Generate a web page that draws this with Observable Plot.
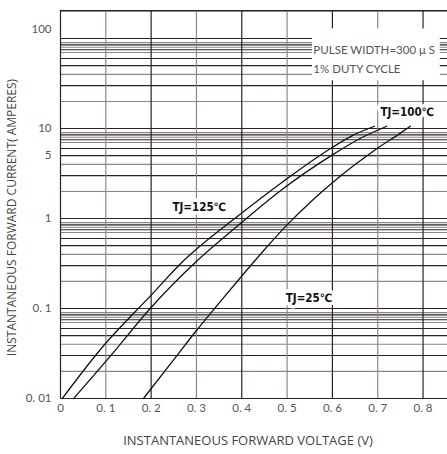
<!DOCTYPE html>
<html>
<head>
<meta charset="utf-8">
<script src="https://cdn.jsdelivr.net/npm/d3@7"></script>
<script src="https://cdn.jsdelivr.net/npm/@observablehq/plot@0.6"></script>
<style>
  html, body { margin: 0; padding: 0; background: #fff; }
  #chart svg { display: block; }
</style>
</head>
<body>
<div id="chart"></div>
<script>
// ---- data ----
const v125 = [0.004, 0.088, 0.199, 0.272, 0.395, 0.49, 0.596, 0.645, 0.693];
const i125 = [0.01, 0.035, 0.139, 0.341, 1.1, 2.55, 6.0, 8.4, 10.6];

const v100 = [0.029, 0.117, 0.194, 0.302, 0.397, 0.486, 0.600, 0.66, 0.72];
const i100 = [0.01, 0.0325, 0.095, 0.341, 0.88, 2.05, 5.1, 7.7, 10.6];

const v25 = [0.183, 0.25, 0.30, 0.353, 0.40, 0.45, 0.501, 0.556, 0.60, 0.645, 0.69, 0.75, 0.772];
const i25 = [0.01, 0.027, 0.057, 0.12, 0.23, 0.45, 0.86, 1.6, 2.5, 3.8, 5.6, 8.9, 10.6];

const xTicks = [0, 0.1, 0.2, 0.3, 0.4, 0.5, 0.6, 0.7, 0.8];
const xTickLabels = ["0", "0. 1", "0. 2", "0. 3", "0. 4", "0. 5", "0. 6", "0. 7", "0. 8"];
const yTicks = [0.01, 0.1, 1, 5, 10];
const yTickLabels = ["0. 01", "0. 1", "1", "5", "10"];
const yTopTick = [100];
const yTopLabel = ["100"];

const decades = [0.01, 0.1, 1, 10, 100];
const gridMultipliers = [1, 2, 3, 4, 5, 6, 7, 7.5, 8, 8.5, 9];
const gridShades = ["dark", "gray", "dark", "gray", "dark", "dark", "gray", "dark", "gray", "dark", "gray"];
const xGrid = [0.1, 0.2, 0.3, 0.4, 0.5, 0.6, 0.7, 0.8];
const xGridShades = ["gray", "dark", "gray", "dark", "gray", "dark", "gray", "dark"];

const curveLabels = ["TJ=125℃", "TJ=100℃", "TJ=25℃"];
const curveLabelV = [0.247, 0.706, 0.497];
const curveLabelI = [1.33, 15.1, 0.129];

const noteLines = ["PULSE WIDTH=300 μ S", "1% DUTY CYCLE"];
const noteV = [0.558, 0.558];
const noteI = [73.5, 45.3];
const noteBox = {x1: 0.556, x2: 0.838, y1: 34, y2: 128};

const xTitle = "INSTANTANEOUS FORWARD VOLTAGE (V)";
const yTitle = "INSTANTANEOUS FORWARD CURRENT( AMPERES)";

const xDomain = [0, 0.865];
const yDomain = [0.01, 205];

// ---- build tables ----
const DARK = "#2b2222";
const GRAY = "#8d8686";
const shadeColor = s => s === "dark" ? DARK : GRAY;

const hGrid = [];
decades.forEach(d => gridMultipliers.forEach((m, k) => {
  const v = d * m;
  if (v <= yDomain[1]) hGrid.push({y: v, c: shadeColor(gridShades[k])});
}));
const vGrid = xGrid.map((x, k) => ({x, c: shadeColor(xGridShades[k])}));

const curves = [
  ...v125.map((v, k) => ({s: "125", v, i: i125[k]})),
  ...v100.map((v, k) => ({s: "100", v, i: i100[k]})),
  ...v25.map((v, k) => ({s: "25", v, i: i25[k]}))
];
const labels = curveLabels.map((t, k) => ({t, v: curveLabelV[k], i: curveLabelI[k]}));
const notes = noteLines.map((t, k) => ({t, v: noteV[k], i: noteI[k]}));

const FONT = "Lato, 'Open Sans', sans-serif";
const TITLE_FONT = "'Open Sans', Lato, sans-serif";

const chart = Plot.plot({
  width: 447,
  height: 454,
  marginLeft: 60,
  marginRight: 0,
  marginTop: 10,
  marginBottom: 56,
  style: {fontFamily: FONT, background: "white"},
  x: {domain: xDomain, range: [60, 452], axis: null},
  y: {type: "log", domain: yDomain, axis: null},
  marks: [
    Plot.ruleY(hGrid, {y: "y", stroke: "c", strokeWidth: 1.1, x1: xDomain[0], x2: xDomain[1]}),
    Plot.ruleX(vGrid, {x: "x", stroke: "c", strokeWidth: 1.2}),
    Plot.ruleX([xDomain[0]], {stroke: DARK, strokeWidth: 1.2}),
    Plot.ruleY([yDomain[1]], {stroke: DARK, strokeWidth: 1.2, x1: xDomain[0], x2: xDomain[1]}),
    Plot.rect([noteBox], {x1: "x1", x2: "x2", y1: "y1", y2: "y2", fill: "white"}),
    Plot.line(curves, {x: "v", y: "i", z: "s", stroke: "#111", strokeWidth: 1.3, curve: "monotone-x"}),
    Plot.text(labels, {x: "v", y: "i", text: "t", textAnchor: "start", fontWeight: "bold",
      fontFamily: "'DejaVu Sans Condensed', 'DejaVu Sans', sans-serif", fontSize: 11.5,
      fill: "#111", stroke: "white", strokeWidth: 7, strokeLinejoin: "round"}),
    Plot.text(notes, {x: "v", y: "i", text: "t", textAnchor: "start", fontSize: 11.5, fill: "#555"}),
    // tick labels
    Plot.text(xTicks, {x: d => d, frameAnchor: "bottom", dy: 13, text: (d, k) => xTickLabels[k],
      fontSize: 11.5, fill: "#555"}),
    Plot.text(yTicks, {y: d => d, frameAnchor: "left", dx: -9, textAnchor: "end",
      text: (d, k) => yTickLabels[k], fontSize: 11.5, fill: "#555"}),
    Plot.text(yTopTick, {y: d => d, frameAnchor: "left", dx: -9, dy: -9, textAnchor: "end",
      text: (d, k) => yTopLabel[k], fontSize: 11.5, fill: "#555"}),
    // axis titles
    Plot.text([xTitle], {frameAnchor: "bottom", dy: 46, dx: -6, textAnchor: "middle",
      text: d => d, fontSize: 13, fontFamily: TITLE_FONT, fill: "#444"}),
    Plot.text([yTitle], {frameAnchor: "left", dx: -48, dy: 13, textAnchor: "middle",
      rotate: -90, text: d => d, fontSize: 12, fontFamily: TITLE_FONT, fill: "#444"})
  ]
});
document.getElementById("chart").append(chart);
</script>
</body>
</html>
